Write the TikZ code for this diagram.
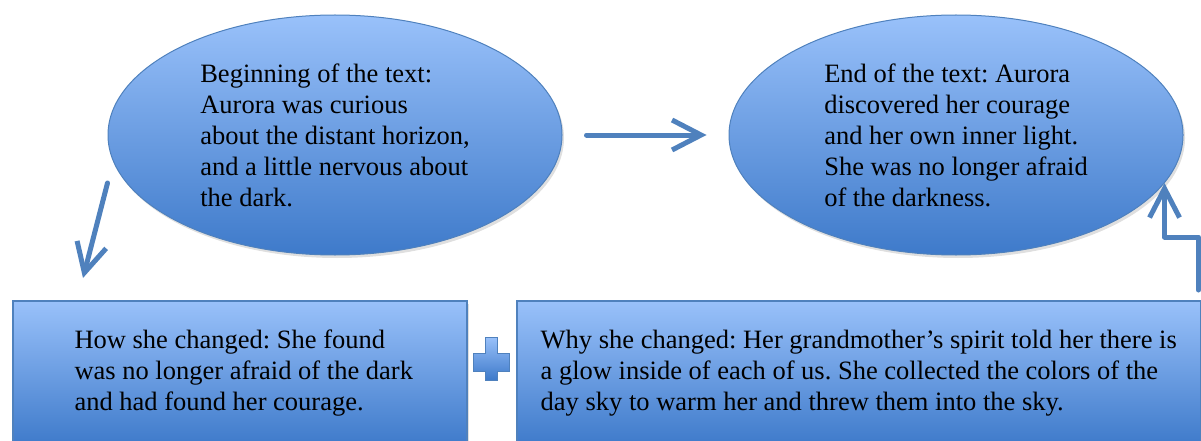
\documentclass[tikz,border=0pt]{standalone}
\usepackage{fontspec}
\setmainfont{Liberation Serif}
\usetikzlibrary{arrows.meta,shapes.geometric,shadows,calc}
\definecolor{lineblue}{RGB}{79,129,189}
\definecolor{topblue}{RGB}{153,193,250}
\definecolor{botblue}{RGB}{62,122,202}
\frenchspacing

\begin{document}
\begin{tikzpicture}[x=1pt,y=-1pt,font=\fontsize{26.5}{31}\selectfont]
          \useasboundingbox (0,0) rectangle (1201,441);
          \tikzstyle{OvalStyle}=[ellipse, draw=lineblue, line width=1pt, top color=topblue, bottom color=botblue,
            minimum width=454pt, minimum height=240pt, inner sep=0pt, align=left,
            drop shadow={opacity=0.25, shadow xshift=2pt, shadow yshift=-3pt}]
          \tikzstyle{BoxStyle}=[rectangle, draw=lineblue, line width=1.5pt, top color=topblue, bottom color=botblue,
            minimum height=145pt, inner sep=0pt, align=left, anchor=north west,
            drop shadow={opacity=0.25, shadow xshift=2pt, shadow yshift=-3pt}]
          \tikzstyle{ArrowStyle}=[draw=lineblue, line width=5pt, line cap=round, line join=round,
            -{Straight Barb[length=29pt, width=30pt]}]
          % ovals
          \node[OvalStyle] (begin) at (335,135) {Beginning of the text:\\Aurora was curious\\about the distant horizon,\\and a little nervous about\\the dark.};
          \node[OvalStyle] (end) at (956,135) {End of the text: Aurora\\discovered her courage\\and her own inner light.\\She was no longer afraid\\of the darkness.};
          % boxes
          \node[BoxStyle, minimum width=454pt] (how) at (12,300) {\hspace*{8pt}How she changed: She found\\\hspace*{8pt}was no longer afraid of the dark\\\hspace*{8pt}and had found her courage.};
          \node[BoxStyle, minimum width=684pt] (why) at (516,300) {Why she changed: Her grandmother’s spirit told her there is\\a glow inside of each of us. She collected the colors of the\\day sky to warm her and threw them into the sky.};
          % plus
          \draw[draw=lineblue, line width=1pt, top color=topblue, bottom color=botblue]
            (485,337) -- (497,337) -- (497,353) -- (509,353) -- (509,371) -- (497,371) -- (497,380)
            -- (485,380) -- (485,371) -- (473,371) -- (473,353) -- (485,353) -- cycle;
          % arrows
          \coordinate (down1) at ($(begin.west)+(0,48)$);
          \coordinate (down2) at ($(how.north west)+(71,-22)$);
          \coordinate (up1) at ($(why.north east)+(-3,-10)$);
          \draw[ArrowStyle, shorten <=24pt, shorten >=22pt] (begin.east) -- (end.west);
          \draw[ArrowStyle] (down1) -- (down2);
          \draw[ArrowStyle] (up1) -- ++(0,-53) -| (end.-13);
        \end{tikzpicture}
\end{document}
